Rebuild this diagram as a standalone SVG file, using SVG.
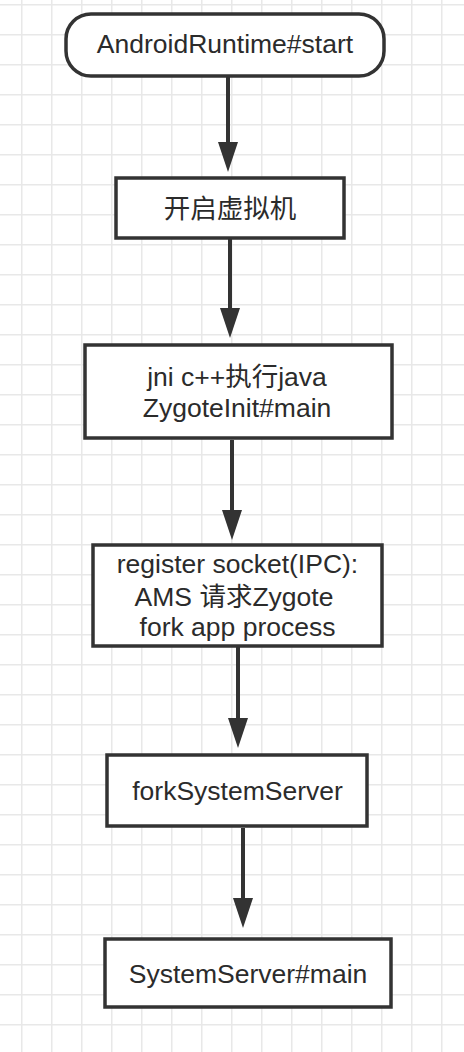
<svg xmlns="http://www.w3.org/2000/svg" width="464" height="1052" viewBox="0 0 464 1052">
<style>
.box{fill:#fff;stroke:#333;stroke-width:3.5}
.lbl{font-family:"Liberation Sans","Noto Sans CJK SC",sans-serif;font-size:26.5px;fill:#2b2b2b;text-anchor:middle}
.conn{stroke:#333;stroke-width:4;fill:none}
</style>
<defs>
<pattern id="grid" x="21" y="4" width="30" height="30" patternUnits="userSpaceOnUse">
<path d="M0 0.75H30M0.75 0V30" stroke="#e8e8e8" stroke-width="1.5" fill="none"/>
</pattern>
<marker id="arr" viewBox="0 0 30 20" refX="5" refY="10" markerWidth="30" markerHeight="20" markerUnits="userSpaceOnUse" orient="auto">
<path d="M0 0L30 10L0 20z" fill="#333"/>
</marker>
</defs>
<rect width="464" height="1052" fill="#fff"/>
<rect width="464" height="1052" fill="url(#grid)"/>
<g id="connectors">
<line class="conn" x1="228" y1="77" x2="228" y2="147" marker-end="url(#arr)"/>
<line class="conn" x1="230" y1="238" x2="230" y2="313" marker-end="url(#arr)"/>
<line class="conn" x1="232" y1="440" x2="232" y2="515" marker-end="url(#arr)"/>
<line class="conn" x1="238" y1="646" x2="238" y2="723" marker-end="url(#arr)"/>
<line class="conn" x1="243" y1="828" x2="243" y2="903" marker-end="url(#arr)"/>
</g>
<g id="n1">
<rect class="box" x="66" y="14" width="318" height="62" rx="25"/>
<text class="lbl" x="225" y="53">AndroidRuntime#start</text>
</g>
<g id="n2">
<rect class="box" x="116" y="178" width="228" height="60"/>
<text class="lbl" x="230" y="218">开启虚拟机</text>
</g>
<g id="n3">
<rect class="box" x="85" y="345" width="307" height="93"/>
<text class="lbl" x="237" y="386">jni c++执行java</text>
<text class="lbl" x="237" y="417">ZygoteInit#main</text>
</g>
<g id="n4">
<rect class="box" x="93" y="545" width="289" height="101"/>
<text class="lbl" x="237.5" y="573">register socket(IPC):</text>
<text class="lbl" x="234" y="606">AMS 请求Zygote</text>
<text class="lbl" x="237.5" y="636">fork app process</text>
</g>
<g id="n5">
<rect class="box" x="107" y="755" width="260" height="71"/>
<text class="lbl" x="237.5" y="800">forkSystemServer</text>
</g>
<g id="n6">
<rect class="box" x="105" y="939" width="286" height="68"/>
<text class="lbl" x="248" y="983">SystemServer#main</text>
</g>
</svg>
